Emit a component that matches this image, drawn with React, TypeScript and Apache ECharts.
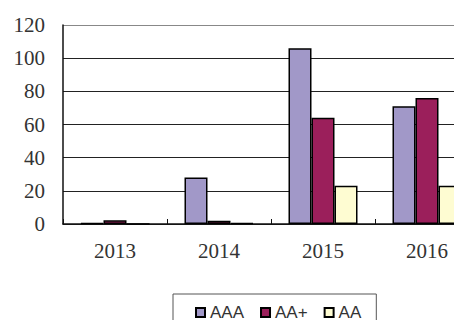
import React, { useEffect, useRef } from "react";
import * as echarts from "echarts";

const categories = ["2013", "2014", "2015", "2016"];
const seriesNames = ["AAA", "AA+", "AA"];
const aaaValues = [0.5, 28, 106, 71];
const aaPlusValues = [2.2, 2, 64, 76];
const aaValues = [0, 0.6, 23, 23];
const yTicks = { min: 0, max: 120, interval: 20 };
const colors = ["#a198c8", "#9b1f5b", "#fefcd2"];

export default function App() {
  const ref = useRef<HTMLDivElement>(null);
  useEffect(() => {
    if (!ref.current) return;
    const chart = echarts.init(ref.current, undefined, { renderer: "svg" });
    const values = [aaaValues, aaPlusValues, aaValues];
    chart.setOption({
      animation: false,
      backgroundColor: "#ffffff",
      grid: { left: 63, top: 25, width: 416, height: 199 },
      legend: {
        data: seriesNames,
        left: 173,
        top: 294,
        orient: "horizontal",
        icon: "rect",
        itemWidth: 9,
        itemHeight: 9,
        itemGap: 16,
        padding: [10, 15, 10, 22],
        borderColor: "#555",
        borderWidth: 1,
        textStyle: { fontFamily: "Liberation Sans", fontSize: 17, color: "#333" },
      },
      xAxis: {
        type: "category",
        data: categories,
        axisLine: { lineStyle: { color: "#111", width: 1.5 } },
        axisTick: { show: true, inside: true, length: 5, lineStyle: { color: "#111" } },
        axisLabel: { fontFamily: "Liberation Serif", fontSize: 21, color: "#333", margin: 16 },
        splitLine: { show: false },
      },
      yAxis: {
        type: "value",
        min: yTicks.min,
        max: yTicks.max,
        interval: yTicks.interval,
        axisLine: { show: true, lineStyle: { color: "#111", width: 1.5 } },
        axisTick: { show: false },
        axisLabel: { fontFamily: "Liberation Serif", fontSize: 21, color: "#333", margin: 18 },
        splitLine: {
          show: true,
          lineStyle: {
            color: ["#222", "#222", "#222", "#222", "#222", "#222", "#888"],
            width: 1.2,
          },
        },
      },
      series: seriesNames.map((name, i) => ({
        name,
        type: "bar",
        data: values[i],
        barWidth: 23,
        barGap: "0%",
        itemStyle: { color: colors[i], borderColor: "#000", borderWidth: 1.5 },
      })),
    });
    return () => chart.dispose();
  }, []);
  return (
    <div
      style={{
        position: "fixed",
        left: 0,
        top: 0,
        width: 454,
        height: 320,
        overflow: "hidden",
        background: "#fff",
      }}
    >
      <div ref={ref} style={{ position: "absolute", left: 0, top: 0, width: 500, height: 320 }} />
    </div>
  );
}
